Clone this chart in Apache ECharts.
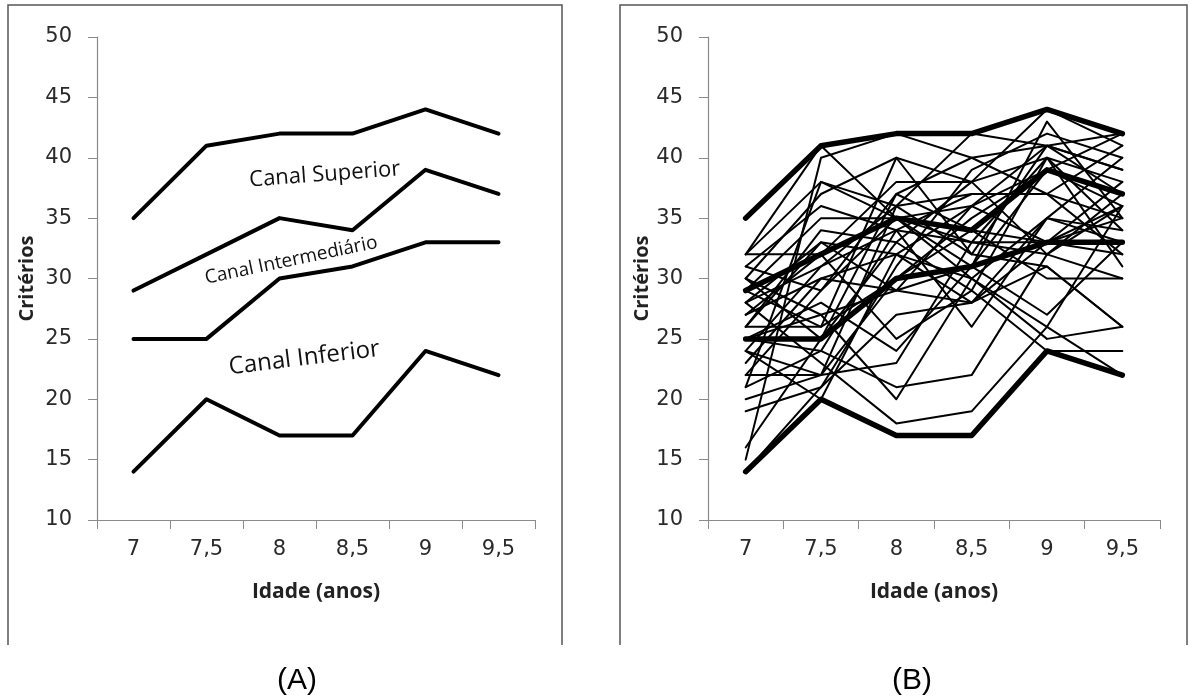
<!DOCTYPE html>
<html>
<head>
<meta charset="utf-8">
<script src="https://cdn.jsdelivr.net/npm/echarts@6/dist/echarts.min.js"></script>
<style>
  html, body { margin: 0; padding: 0; background: #fff; }
  #chart { width: 1189px; height: 698px; }
</style>
</head>
<body>
<div id="chart"></div>
<script>
// Idades (anos) no eixo horizontal
const idade = ['7', '7,5', '8', '8,5', '9', '9,5'];

// Eixo de critérios
const critMin = 10;
const critMax = 50;
const critPasso = 5;

// Limites dos canais
const limiteSuperior = [35, 41, 42, 42, 44, 42];
const limiteSupIntermediario = [29, 32, 35, 34, 39, 37];
const limiteInfIntermediario = [25, 25, 30, 31, 33, 33];
const limiteInferior = [14, 20, 17, 17, 24, 22];

// Trajetórias individuais (painel B), uma linha por criança
const individuos = [
  [32, 41, 35, 33, 40, 38],
  [15, 40, 42, 40, 41, 39],
  [32, 38, 36, 42, 41, 42],
  [30, 37, 40, 38, 44, 41],
  [31, 36, 34, 37, 37, 35],
  [29, 35, 35, 36, 39, 36],
  [28, 33, 32, 30, 35, 40],
  [27, 32, 38, 38, 40, 34],
  [26, 26, 40, 32, 41, 37],
  [24, 31, 36, 37, 37, 32],
  [25, 28, 24, 31, 43, 35],
  [23, 30, 29, 28, 31, 26],
  [22, 29, 37, 34, 33, 36],
  [21, 24, 34, 26, 35, 33],
  [20, 22, 23, 33, 32, 37],
  [19, 21, 27, 28, 33, 38],
  [16, 25, 33, 29, 40, 31],
  [14, 21, 31, 39, 42, 40],
  [32, 32, 25, 29, 24, 24],
  [30, 27, 20, 30, 26, 22],
  [28, 23, 18, 19, 26, 36],
  [25, 24, 21, 22, 32, 30],
  [29, 26, 30, 34, 30, 30],
  [26, 33, 29, 31, 27, 33],
  [27, 30, 32, 28, 35, 34],
  [24, 20, 32, 36, 33, 32],
  [31, 29, 35, 31, 39, 42],
  [30, 25, 37, 40, 37, 41],
  [28, 31, 34, 33, 33, 35],
  [26, 34, 33, 38, 32, 36],
  [22, 22, 30, 35, 39, 37],
  [21, 38, 35, 30, 25, 26],
  [25, 27, 29, 36, 41, 39],
  [24, 22, 36, 32, 31, 26]
];

const limites = [limiteSuperior, limiteSupIntermediario, limiteInfIntermediario, limiteInferior];

const chart = echarts.init(document.getElementById('chart'), null, { renderer: 'canvas' });

const eixoCinza = '#8a8a8a';
const fonteNum = '"DejaVu Sans", sans-serif';
const fonteTitulo = '"Open Sans", sans-serif';

function eixoX(grid) {
  return {
    type: 'category', gridIndex: grid, data: idade, boundaryGap: true,
    name: 'Idade (anos)', nameLocation: 'middle', nameGap: 62,
    nameTextStyle: { fontFamily: fonteTitulo, fontWeight: 'bold', fontSize: 21, color: '#222' },
    axisLine: { lineStyle: { color: eixoCinza, width: 1.2 } },
    axisTick: { show: true, interval: 0, alignWithLabel: false, length: 9, lineStyle: { color: eixoCinza } },
    axisLabel: { interval: 0, margin: 19, fontFamily: fonteNum, fontSize: 21, color: '#2a2a2a' },
    splitLine: { show: false }
  };
}

function eixoY(grid, gap) {
  return {
    type: 'value', gridIndex: grid, min: critMin, max: critMax, interval: critPasso,
    name: 'Critérios', nameLocation: 'middle', nameGap: gap, nameRotate: 90,
    nameTextStyle: { fontFamily: fonteTitulo, fontWeight: 'bold', fontSize: 20, color: '#222' },
    axisLine: { show: true, lineStyle: { color: eixoCinza, width: 1.2 } },
    axisTick: { show: true, length: 9, lineStyle: { color: eixoCinza } },
    axisLabel: { margin: 25, fontFamily: fonteNum, fontSize: 21, color: '#2a2a2a' },
    splitLine: { show: false }
  };
}

function linha(grid, dados, largura) {
  return {
    type: 'line', xAxisIndex: grid, yAxisIndex: grid, data: dados,
    symbol: 'none', silent: true,
    lineStyle: { color: '#000', width: largura, cap: 'round', join: 'round' }
  };
}

const series = [];
limites.forEach(d => series.push(linha(0, d, 4)));
individuos.forEach(d => series.push(linha(1, d, 2)));
limites.forEach(d => series.push(linha(1, d, 5.5)));

chart.setOption({
  animation: false,
  backgroundColor: '#fff',
  grid: [
    { left: 97, top: 37, width: 438, height: 483 },
    { left: 708, top: 37, width: 452, height: 483 }
  ],
  xAxis: [eixoX(0), eixoX(1)],
  yAxis: [eixoY(0, 60), eixoY(1, 56)],
  series: series
});

// Posição em pixels de um ponto intermediário entre categorias
function pontoNoGrid(grid, xi, v) {
  const i0 = Math.floor(xi), f = xi - i0;
  const a = chart.convertToPixel({ gridIndex: grid }, [i0, v]);
  const b = chart.convertToPixel({ gridIndex: grid }, [i0 + 1, v]);
  return [a[0] + (b[0] - a[0]) * f, a[1]];
}

const rotulosCanais = [
  { texto: 'Canal Superior', xi: 2.62, v: 38.6, ang: 4.3, tam: 22 },
  { texto: 'Canal Intermediário', xi: 2.16, v: 31.5, ang: 11.8, tam: 19 },
  { texto: 'Canal Inferior', xi: 2.34, v: 23.4, ang: 7, tam: 24 }
];

const graficos = [
  // molduras dos painéis
  { type: 'polyline', shape: { points: [[8, 645], [8, 5], [562, 5], [562, 645]] },
    style: { stroke: '#555', lineWidth: 1.5, fill: null }, silent: true },
  { type: 'polyline', shape: { points: [[620, 645], [620, 5], [1187, 5], [1187, 645]] },
    style: { stroke: '#555', lineWidth: 1.5, fill: null }, silent: true },
  { type: 'text', x: 297, y: 681,
    style: { text: '(A)', align: 'center', verticalAlign: 'middle', font: '30px "Liberation Sans", Arial, sans-serif', fill: '#000' } },
  { type: 'text', x: 912, y: 681,
    style: { text: '(B)', align: 'center', verticalAlign: 'middle', font: '30px "Liberation Sans", Arial, sans-serif', fill: '#000' } }
];

rotulosCanais.forEach(r => {
  const p = pontoNoGrid(0, r.xi, r.v);
  graficos.push({
    type: 'text', x: p[0], y: p[1], rotation: r.ang * Math.PI / 180,
    style: { text: r.texto, align: 'center', verticalAlign: 'middle',
      font: r.tam + 'px "Open Sans", sans-serif', fill: '#111' }
  });
});

chart.setOption({ graphic: graficos });
</script>
</body>
</html>
